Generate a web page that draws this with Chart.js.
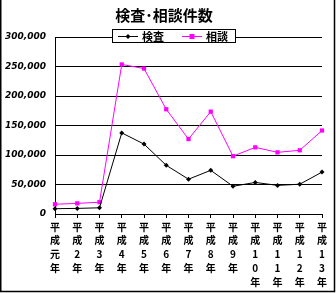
<!DOCTYPE html>
<html>
<head>
<meta charset="utf-8">
<script src="https://cdn.jsdelivr.net/npm/chart.js@4"></script>
<style>
  html, body { margin: 0; padding: 0; background: #fff; }
  #wrap { width: 336px; height: 293px; }
</style>
</head>
<body>
<div id="wrap"><canvas id="chart" width="336" height="293"></canvas></div>
<script>
var titleText = '検査･相談件数';
var years = ['元', '2', '3', '4', '5', '6', '7', '8', '9', '10', '11', '12', '13'];
var kensa = [9000, 9500, 10500, 137500, 118500, 82500, 59000, 74000, 47000, 53500, 48500, 50500, 71000];
var soudan = [16500, 18000, 20000, 253500, 246500, 177500, 127000, 173500, 98000, 113000, 104500, 108000, 141500];
var seriesNames = ['検査', '相談'];
var seriesColors = ['#000000', '#ff00ff'];

// vertical labels: 平 / 成 / digits / 年, one char per line
var labels = years.map(function(y) {
	return ['平', '成'].concat(y.split('')).concat(['年']);
});

var cjk = "'Noto Sans CJK JP', 'Noto Sans', sans-serif";

// title, boxed legend and the outer frame
var decoPlugin = {
	id: 'deco',
	afterDatasetsDraw: function(chart) {
		var c = chart.ctx;
		c.save();
		c.fillStyle = '#000';
		c.font = 'bold 15px ' + cjk;
		c.textAlign = 'center';
		c.textBaseline = 'middle';
		c.fillText(titleText, 164, 15);

		// legend box
		c.fillStyle = '#fff';
		c.fillRect(112, 29, 124, 14);
		c.strokeStyle = '#000';
		c.lineWidth = 1;
		c.strokeRect(112.5, 29.5, 123, 13);

		var xs = [118, 182];
		chart.data.datasets.forEach(function(ds, i) {
			var x0 = xs[i];
			c.strokeStyle = ds.borderColor;
			c.beginPath();
			c.moveTo(x0, 36.5);
			c.lineTo(x0 + 20, 36.5);
			c.stroke();
			c.fillStyle = ds.borderColor;
			if (i == 0) {
				c.beginPath();
				c.moveTo(x0 + 10, 34);
				c.lineTo(x0 + 12.5, 36.5);
				c.lineTo(x0 + 10, 39);
				c.lineTo(x0 + 7.5, 36.5);
				c.closePath();
				c.fill();
			} else {
				c.fillRect(x0 + 7.5, 34, 5, 5);
			}
			c.fillStyle = '#000';
			c.font = 'bold 11px ' + cjk;
			c.textAlign = 'left';
			c.fillText(ds.label, x0 + 24, 36.5);
		});

		// chart frame
		c.strokeStyle = '#000';
		c.lineWidth = 1.5;
		c.beginPath();
		c.moveTo(0.75, 0);
		c.lineTo(0.75, 291.5);
		c.lineTo(334.5, 291.5);
		c.lineTo(334.5, 0);
		c.stroke();
		c.restore();
	}
};

var ctx = document.getElementById('chart');
var chart = new Chart(ctx, {
	type: 'line',
	data: {
		labels: labels,
		datasets: [
			{
				label: seriesNames[0],
				data: kensa,
				borderColor: seriesColors[0],
				backgroundColor: seriesColors[0],
				borderWidth: 1,
				pointStyle: 'rectRot',
				pointRadius: 2.5,
				pointBorderWidth: 0,
				tension: 0
			},
			{
				label: seriesNames[1],
				data: soudan,
				borderColor: seriesColors[1],
				backgroundColor: seriesColors[1],
				borderWidth: 1,
				pointStyle: 'rect',
				pointRadius: 3,
				pointBorderWidth: 0,
				tension: 0
			}
		]
	},
	options: {
		responsive: false,
		animation: false,
		events: [],
		layout: { padding: { top: 37, right: 14, left: 0, bottom: 0 } },
		plugins: {
			legend: { display: false },
			title: { display: false },
			tooltip: { enabled: false }
		},
		scales: {
			x: {
				offset: false,
				afterFit: function(s) { s.height = 79; },
				border: { color: '#000', width: 1 },
				grid: { drawOnChartArea: false, drawTicks: true, tickLength: 4, color: '#000' },
				ticks: {
					maxRotation: 0,
					minRotation: 0,
					autoSkip: false,
					padding: 2,
					color: '#000',
					font: { family: cjk, size: 10, weight: 'bold', lineHeight: 1.38 }
				}
			},
			y: {
				min: 0,
				max: 300000,
				afterFit: function(s) { s.width = 55; },
				border: { color: '#000', width: 1 },
				grid: { color: '#000', lineWidth: 1, drawTicks: false },
				ticks: {
					stepSize: 50000,
					padding: 9,
					color: '#000',
					font: { family: "'DejaVu Sans', sans-serif", size: 9, weight: 'bold', style: 'italic' },
					callback: function(v) { return v.toLocaleString('en-US'); }
				}
			}
		}
	},
	plugins: [decoPlugin]
});
</script>
</body>
</html>
